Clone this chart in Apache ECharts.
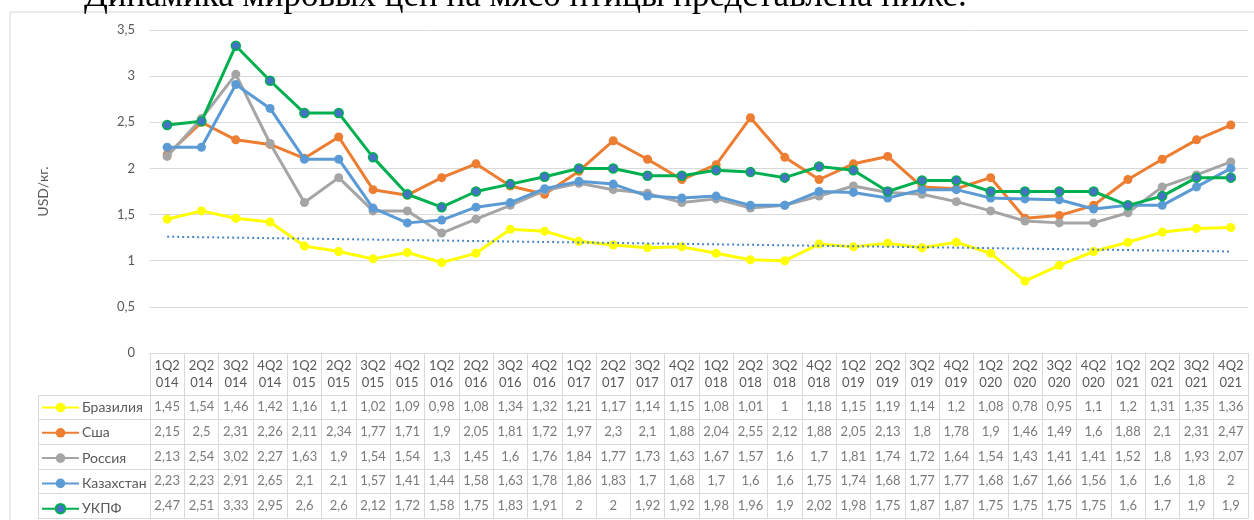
<!DOCTYPE html>
<html>
<head>
<meta charset="utf-8">
<script src="https://cdn.jsdelivr.net/npm/echarts@6/dist/echarts.min.js"></script>
<style>html,body{margin:0;padding:0;background:#fff;}#c{width:1254px;height:520px;}</style>
</head>
<body>
<div id="c"></div>
<script>
var categories = ["1Q2014","2Q2014","3Q2014","4Q2014","1Q2015","2Q2015","3Q2015","4Q2015","1Q2016","2Q2016","3Q2016","4Q2016","1Q2017","2Q2017","3Q2017","4Q2017","1Q2018","2Q2018","3Q2018","4Q2018","1Q2019","2Q2019","3Q2019","4Q2019","1Q2020","2Q2020","3Q2020","4Q2020","1Q2021","2Q2021","3Q2021","4Q2021"];
var brazil = [1.45,1.54,1.46,1.42,1.16,1.1,1.02,1.09,0.98,1.08,1.34,1.32,1.21,1.17,1.14,1.15,1.08,1.01,1,1.18,1.15,1.19,1.14,1.2,1.08,0.78,0.95,1.1,1.2,1.31,1.35,1.36];
var usa = [2.15,2.5,2.31,2.26,2.11,2.34,1.77,1.71,1.9,2.05,1.81,1.72,1.97,2.3,2.1,1.88,2.04,2.55,2.12,1.88,2.05,2.13,1.8,1.78,1.9,1.46,1.49,1.6,1.88,2.1,2.31,2.47];
var russia = [2.13,2.54,3.02,2.27,1.63,1.9,1.54,1.54,1.3,1.45,1.6,1.76,1.84,1.77,1.73,1.63,1.67,1.57,1.6,1.7,1.81,1.74,1.72,1.64,1.54,1.43,1.41,1.41,1.52,1.8,1.93,2.07];
var kazakhstan = [2.23,2.23,2.91,2.65,2.1,2.1,1.57,1.41,1.44,1.58,1.63,1.78,1.86,1.83,1.7,1.68,1.7,1.6,1.6,1.75,1.74,1.68,1.77,1.77,1.68,1.67,1.66,1.56,1.6,1.6,1.8,2];
var ukpf = [2.47,2.51,3.33,2.95,2.6,2.6,2.12,1.72,1.58,1.75,1.83,1.91,2,2,1.92,1.92,1.98,1.96,1.9,2.02,1.98,1.75,1.87,1.87,1.75,1.75,1.75,1.75,1.6,1.7,1.9,1.9];
var trendStart = 1.26, trendEnd = 1.10;
var seriesNames = ["Бразилия","Сша","Россия","Казахстан","УКПФ"];
var yTicks = [0,0.5,1,1.5,2,2.5,3,3.5];

var allData = [brazil, usa, russia, kazakhstan, ukpf];
var colors = ["#FFFF00","#ED7D31","#A5A5A5","#5B9BD5","#00B050"];
var markerColors = ["#FFFF00","#ED7D31","#A5A5A5","#5B9BD5","#4472C4"];
var trend = categories.map(function(_, i){ return i === 0 ? trendStart : (i === categories.length - 1 ? trendEnd : null); });
var fmt = function(v){ return String(v).replace('.', ','); };
var FONT = 'Lato';
var TXT = '#595959';
var BORDER = '#D9D9D9';

var cellData = [];
allData.forEach(function(arr, r){ arr.forEach(function(v, c){ cellData.push([c, r, v]); }); });

var series = allData.map(function(arr, i){
  return {
    name: seriesNames[i], type: 'line', xAxisIndex: 0, yAxisIndex: 0,
    data: arr, symbol: 'circle', symbolSize: 9, showAllSymbol: true,
    lineStyle: { color: colors[i], width: 3 },
    itemStyle: { color: markerColors[i], borderColor: colors[i], borderWidth: i === 4 ? 1.5 : 0 },
    z: 3 + i
  };
});
series.push({
  name: 'trend', type: 'line', xAxisIndex: 0, yAxisIndex: 0, data: trend, connectNulls: true,
  symbol: 'none', lineStyle: { color: '#4A86C8', width: 2, type: [2, 3] }, z: 10, silent: true
});
series.push({
  name: 'table', type: 'scatter', xAxisIndex: 1, yAxisIndex: 1, data: cellData,
  symbolSize: 2, itemStyle: { color: 'rgba(0,0,0,0)' }, silent: true,
  label: { show: true, position: 'inside', color: TXT, fontFamily: FONT, fontSize: 13,
    formatter: function(p){ return fmt(p.value[2]); } },
  z: 20
});

var chart = echarts.init(document.getElementById('c'), null, { renderer: 'canvas' });
chart.setOption({
  animation: false,
  textStyle: { fontFamily: FONT },
  graphic: [
    { type: 'rect', shape: { x: 10, y: 12, width: 1262, height: 520 }, style: { fill: 'none', stroke: BORDER, lineWidth: 1 }, z: -1 },
    { type: 'text', left: 84, top: -21, style: { text: 'Динамика мировых цен на мясо птицы представлена ниже.', font: '35px "Liberation Serif"', fill: '#000' } }
  ],
  legend: {
    data: seriesNames, orient: 'vertical', left: 41, top: 400.5, padding: 0, itemWidth: 37, itemHeight: 12, itemGap: 11.3,
    height: 200,
    textStyle: { color: TXT, fontFamily: FONT, fontSize: 14, lineHeight: 12, padding: [0, 0, 0, -2] }, selectedMode: false
  },
  grid: [
    { left: 150, right: 6, top: 30, height: 323 },
    { left: 150, right: 6, top: 395, height: 123 }
  ],
  xAxis: [
    { type: 'category', gridIndex: 0, data: categories, boundaryGap: true,
      axisLine: { show: true, lineStyle: { color: BORDER } }, axisTick: { show: false }, axisLabel: { show: false } },
    { type: 'category', gridIndex: 1, data: categories, position: 'top', boundaryGap: true,
      axisLine: { show: true, lineStyle: { color: BORDER } },
      axisTick: { show: true, interval: 0, length: 42, lineStyle: { color: BORDER } },
      axisLabel: { show: true, interval: 0, margin: 4, color: TXT, fontFamily: FONT, fontSize: 13, lineHeight: 17,
        formatter: function(s){ return s.slice(0,3) + '\n' + s.slice(3); } },
      splitLine: { show: true, interval: 0, lineStyle: { color: BORDER } } },
    { type: 'category', gridIndex: 1, data: categories, position: 'bottom', boundaryGap: true,
      axisLine: { show: true, lineStyle: { color: BORDER } }, axisTick: { show: false }, axisLabel: { show: false } }
  ],
  yAxis: [
    { type: 'value', gridIndex: 0, min: 0, max: 3.5, interval: 0.5,
      name: 'USD/кг.', nameLocation: 'middle', nameGap: 100, nameRotate: 90,
      nameTextStyle: { color: TXT, fontFamily: FONT, fontSize: 14 },
      axisLine: { show: false }, axisTick: { show: false },
      axisLabel: { color: TXT, fontFamily: FONT, fontSize: 13, margin: 15, formatter: fmt },
      splitLine: { show: true, lineStyle: { color: BORDER } } },
    { type: 'category', gridIndex: 1, data: seriesNames, inverse: true, position: 'left', boundaryGap: true,
      axisLine: { show: true, lineStyle: { color: BORDER } },
      axisTick: { show: true, interval: 0, length: 112, lineStyle: { color: BORDER } },
      axisLabel: { show: false },
      splitLine: { show: true, interval: 0, lineStyle: { color: BORDER } } },
    { type: 'category', gridIndex: 1, data: seriesNames, inverse: true, position: 'left', offset: 112,
      axisLine: { show: true, lineStyle: { color: BORDER } }, axisTick: { show: false }, axisLabel: { show: false } },
    { type: 'category', gridIndex: 1, data: seriesNames, inverse: true, position: 'right',
      axisLine: { show: true, lineStyle: { color: BORDER } }, axisTick: { show: false }, axisLabel: { show: false } }
  ],
  series: series
});
</script>
</body>
</html>
